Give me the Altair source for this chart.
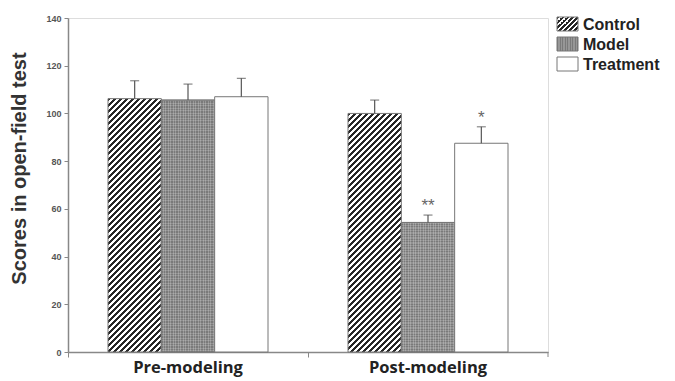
import altair as alt
import pandas as pd

groups = ["Pre-modeling", "Post-modeling"]
series = ["Control", "Model", "Treatment"]
pre_means = [106.2, 105.6, 107.0]
pre_errs = [7.5, 6.7, 7.7]
post_means = [100.0, 54.3, 87.5]
post_errs = [5.6, 3.1, 6.9]
post_sig = ["", "**", "*"]

rows = []
for s, m, e in zip(series, pre_means, pre_errs):
    rows.append({"group": groups[0], "series": s, "mean": m, "upper": m + e, "sig": ""})
for s, m, e, g in zip(series, post_means, post_errs, post_sig):
    rows.append({"group": groups[1], "series": s, "mean": m, "upper": m + e, "sig": g})
df = pd.DataFrame(rows)

W, H = 480, 334
YMAX = 140
BAR_W = W / len(groups) / 4.5


def stripes(w, h, period, dark, light, direction="diag", duty=0.5):
    if direction == "diag":
        c = (w + h) / (w * w + h * h)
        x2, y2, total = c * w, c * h, w + h
    elif direction == "h":
        x2, y2, total = 1, 0, w
    else:
        x2, y2, total = 0, 1, h
    stops = []
    k = 0
    while k * period < total:
        t0 = min(k * period / total, 1)
        t1 = min((k * period + period * duty) / total, 1)
        t2 = min((k + 1) * period / total, 1)
        stops += [{"offset": t0, "color": dark}, {"offset": t1, "color": dark},
                  {"offset": t1, "color": light}, {"offset": t2, "color": light}]
        k += 1
    return {"gradient": "linear", "x1": 0, "y1": 0, "x2": x2, "y2": y2, "stops": stops}


def hatch(w, h, period=6.0):
    return stripes(w, h, period, "#262626", "#ffffff", "diag")


x_enc = alt.X("group:N", sort=groups, title=None,
              scale=alt.Scale(domain=groups, paddingInner=0, paddingOuter=0),
              axis=alt.Axis(labelAngle=0, bandPosition=0, labelFont="Open Sans", labelFontSize=16.5,
                            labelFontWeight="bold", labelColor="#222", labelPadding=2,
                            tickSize=5, tickColor="#888", domainColor="#888", domainWidth=1.5))
xo_enc = alt.XOffset("series:N", sort=series,
                     scale=alt.Scale(domain=series, paddingInner=0, paddingOuter=0.75))
y_enc = alt.Y("mean:Q", title="Scores in open-field test",
              scale=alt.Scale(domain=[0, YMAX], nice=False),
              axis=alt.Axis(values=list(range(0, 141, 20)), grid=False, labelFontSize=9,
                            labelFontWeight="bold", labelColor="#555", labelFont="Liberation Sans",
                            tickSize=4, tickColor="#888", domainColor="#888", domainWidth=1.5,
                            labelPadding=3, titleFont="Liberation Sans", titleFontSize=20,
                            titleFontWeight="bold", titleColor="#333", titleX=-49, titleY=150,
                            titleAngle=-90, titleBaseline="middle", titleAlign="center"))

base = alt.Chart(df)
layers = []
for g, m in zip(groups, [pre_means[0], post_means[0]]):
    h = m / YMAX * H
    layers.append(
        base.transform_filter((alt.datum.series == "Control") & (alt.datum.group == g))
        .mark_bar(fill=hatch(BAR_W, h), stroke="#777", strokeWidth=1)
        .encode(x=x_enc, xOffset=xo_enc, y=y_enc)
    )
for g, m in zip(groups, [pre_means[1], post_means[1]]):
    h = m / YMAX * H
    layers.append(
        base.transform_filter((alt.datum.series == "Model") & (alt.datum.group == g))
        .mark_bar(fill=stripes(BAR_W, h, 2.5, "#7a7a7a", "#979797", "h"), stroke="#777", strokeWidth=1)
        .encode(x=x_enc, xOffset=xo_enc, y=y_enc)
    )
    layers.append(
        base.transform_filter((alt.datum.series == "Model") & (alt.datum.group == g))
        .mark_bar(fill=stripes(BAR_W, h, 2.5, "rgba(255,255,255,0.18)", "rgba(0,0,0,0)", "v"),
                  stroke="#777", strokeWidth=1)
        .encode(x=x_enc, xOffset=xo_enc, y=y_enc)
    )
layers.append(
    base.transform_filter(alt.datum.series == "Treatment")
    .mark_bar(fill="#ffffff", stroke="#777", strokeWidth=1)
    .encode(x=x_enc, xOffset=xo_enc, y=y_enc)
)
err = base.mark_rule(color="#555", strokeWidth=1.2).encode(
    x=x_enc, xOffset=xo_enc, y=alt.Y("mean:Q"), y2="upper:Q")
cap = base.mark_tick(color="#555", thickness=1.2, size=9, orient="horizontal").encode(
    x=x_enc, xOffset=xo_enc, y=alt.Y("upper:Q"))
stars = base.mark_text(color="#666", fontSize=17, baseline="middle", dy=-9,
                       font="Liberation Sans").encode(
    x=x_enc, xOffset=xo_enc, y=alt.Y("upper:Q"), text="sig:N")
layers += [err, cap, stars]

# closing tick at the right end of the x axis
end_tick = alt.Chart(pd.DataFrame({"s": ["end"]})).mark_rule(color="#888", strokeWidth=1).encode(
    x=alt.value(W), y=alt.value(H), y2=alt.value(H + 5))

# legend
leg_x, leg_w, leg_h = 489, 21, 14
leg = []
for i, s in enumerate(series):
    cy = 6 + i * 20
    if s == "Control":
        fill = hatch(leg_w, leg_h, period=5.0)
    elif s == "Model":
        fill = stripes(leg_w, leg_h, 2.5, "#7a7a7a", "#979797", "h")
    else:
        fill = "#ffffff"
    leg.append(alt.Chart(pd.DataFrame({"s": [s]})).mark_rect(fill=fill, stroke="#777", strokeWidth=1).encode(
        x=alt.value(leg_x), x2=alt.value(leg_x + leg_w),
        y=alt.value(cy - leg_h / 2), y2=alt.value(cy + leg_h / 2)))
    leg.append(alt.Chart(pd.DataFrame({"s": [s]})).mark_text(
        align="left", baseline="middle", font="Liberation Sans", fontSize=16,
        fontWeight="bold", color="#222").encode(
        x=alt.value(leg_x + leg_w + 5), y=alt.value(cy + 1), text="s:N"))

chart = alt.layer(*layers, end_tick, *leg).properties(
    width=W, height=H,
    autosize=alt.AutoSizeParams(type="none"),
    padding={"left": 60, "top": 10, "right": 119, "bottom": 28},
).configure_view(stroke=None).configure(background="white")

chart.save("out.html", embed_options={"renderer": "svg", "actions": False})
